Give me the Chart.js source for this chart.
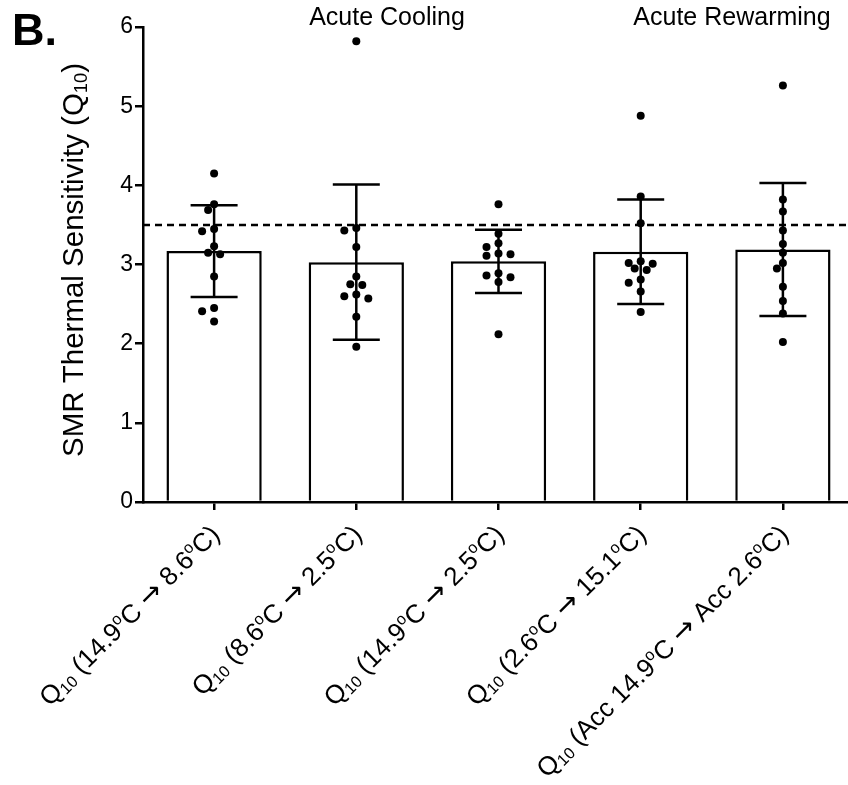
<!DOCTYPE html>
<html>
<head>
<meta charset="utf-8">
<script src="https://cdn.jsdelivr.net/npm/chart.js@4.4.1/dist/chart.umd.min.js"></script>
<style>
  html, body { margin: 0; padding: 0; background: #fff; overflow: hidden; }
  #wrap { width: 860px; height: 785px; }
</style>
</head>
<body>
<div id="wrap"><canvas id="q10Chart" width="860" height="785"></canvas></div>
<script>
// labels use a tiny markup: _{..} = subscript, ^{..} = superscript
const categories = [
    'Q_{10} (14.9^{o}C → 8.6^{o}C)',
    'Q_{10} (8.6^{o}C → 2.5^{o}C)',
    'Q_{10} (14.9^{o}C → 2.5^{o}C)',
    'Q_{10} (2.6^{o}C → 15.1^{o}C)',
    'Q_{10} (Acc 14.9^{o}C → Acc 2.6^{o}C)'
];
const means = [3.17, 3.03, 3.04, 3.16, 3.19];
const sd = [0.58, 0.98, 0.40, 0.66, 0.84];

const fish1 = [4.15, 3.76, 3.69, 3.45, 3.42, 3.23, 3.15, 3.13, 2.85, 2.45, 2.41, 2.28];
const fish2 = [5.82, 3.46, 3.43, 3.22, 2.85, 2.75, 2.74, 2.62, 2.60, 2.57, 2.34, 1.96];
const fish3 = [3.76, 3.39, 3.27, 3.22, 3.14, 3.13, 3.11, 2.89, 2.86, 2.84, 2.78, 2.12];
const fish4 = [4.88, 3.86, 3.52, 3.04, 3.02, 3.01, 2.95, 2.93, 2.81, 2.77, 2.66, 2.40];
const fish5 = [5.26, 3.82, 3.67, 3.43, 3.26, 3.15, 3.02, 2.95, 2.72, 2.54, 2.38, 2.02];

const q10Line = 3.5;
const yMin = 0, yMax = 6, yStep = 1;
const yTitle = 'SMR Thermal Sensitivity (Q_{10})';
const groupTitles = ['Acute Cooling', 'Acute Rewarming'];
const panelLetter = 'B.';

const FONT = '"Liberation Sans", Arial, sans-serif';
const ARROW_FONT = '"DejaVu Sans", sans-serif';

// simple beeswarm so overlapping dots get spread sideways
const X_PX = 142.2, Y_PX = 79.17, STEP = 6, DIAM = 8;
function swarm(values, idx) {
    const order = values.map((v, i) => i).sort((a, b) => values[b] - values[a]);
    const placed = [];
    const out = [];
    order.forEach(i => {
        const v = values[i];
        for (const k of [0, -1, 1, -2, 2, -3, 3, -4, 4, -5, 5, -6, 6]) {
            const dx = k * STEP;
            const ok = placed.every(p => (p.dx - dx) ** 2 + ((p.v - v) * Y_PX) ** 2 >= DIAM * DIAM);
            if (ok) {
                placed.push({ dx, v });
                out.push({ x: idx + dx / X_PX, y: v });
                break;
            }
        }
    });
    return out;
}

const dots = [fish1, fish2, fish3, fish4, fish5].flatMap((g, i) => swarm(g, i));

function parseRich(s) {
    const parts = [];
    const re = /([_^])\{([^}]*)\}|(→)|([^_^→]+)/g;
    let m;
    while ((m = re.exec(s)) !== null) {
        if (m[4]) parts.push({ t: m[4], k: 'n' });
        else if (m[3]) parts.push({ t: m[3], k: 'arrow' });
        else parts.push({ t: m[2], k: m[1] === '_' ? 'sub' : 'sup' });
    }
    return parts;
}

function partFont(p, size) {
    if (p.k === 'arrow') return `${size * 1.05}px ${ARROW_FONT}`;
    if (p.k === 'n') return `${size}px ${FONT}`;
    return `${size * 0.62}px ${FONT}`;
}

function drawRich(ctx, s, size, align) {
    const parts = parseRich(s);
    let total = 0;
    parts.forEach(p => {
        ctx.font = partFont(p, size);
        p.w = ctx.measureText(p.t).width;
        total += p.w;
    });
    let x = align === 'right' ? -total : align === 'center' ? -total / 2 : 0;
    ctx.textAlign = 'left';
    ctx.textBaseline = 'alphabetic';
    parts.forEach(p => {
        ctx.font = partFont(p, size);
        const dy = p.k === 'sub' ? size * 0.12 : p.k === 'sup' ? -size * 0.38 : 0;
        ctx.fillText(p.t, x, dy);
        x += p.w;
    });
}

const overlay = {
    id: 'overlay',
    afterDatasetDraw(chart, args) {
        if (args.index !== 0) return;
        const ctx = chart.ctx;
        const y = chart.scales.y;
        const x = chart.scales.x;
        const area = chart.chartArea;
        ctx.save();
        ctx.strokeStyle = '#000';
        ctx.lineWidth = 2.5;

        // reference line
        ctx.setLineDash([7, 5]);
        ctx.beginPath();
        ctx.moveTo(area.left, y.getPixelForValue(q10Line));
        ctx.lineTo(area.right, y.getPixelForValue(q10Line));
        ctx.stroke();
        ctx.setLineDash([]);

        // mean +/- SD
        means.forEach((m, i) => {
            const cx = x.getPixelForValue(i);
            const top = y.getPixelForValue(m + sd[i]);
            const bot = y.getPixelForValue(m - sd[i]);
            ctx.beginPath();
            ctx.moveTo(cx, top);
            ctx.lineTo(cx, bot);
            ctx.moveTo(cx - 23.5, top);
            ctx.lineTo(cx + 23.5, top);
            ctx.moveTo(cx - 23.5, bot);
            ctx.lineTo(cx + 23.5, bot);
            ctx.stroke();
        });
        ctx.restore();
    },
    afterDraw(chart) {
        const ctx = chart.ctx;
        const x = chart.scales.x;
        const area = chart.chartArea;
        ctx.save();
        ctx.fillStyle = '#000';

        categories.forEach((c, i) => {
            ctx.save();
            ctx.translate(x.getPixelForValue(i) + 7, area.bottom + 34);
            ctx.rotate(-Math.PI / 4);
            drawRich(ctx, c, 26, 'right');
            ctx.restore();
        });

        ctx.save();
        ctx.translate(83, 260);
        ctx.rotate(-Math.PI / 2);
        drawRich(ctx, yTitle, 29.5, 'center');
        ctx.restore();

        ctx.textBaseline = 'alphabetic';
        ctx.textAlign = 'center';
        ctx.font = `25px ${FONT}`;
        ctx.fillText(groupTitles[0], 387, 25);
        ctx.fillText(groupTitles[1], 732, 25);

        ctx.textAlign = 'left';
        ctx.font = `bold 45px ${FONT}`;
        ctx.fillText(panelLetter, 12, 45);
        ctx.restore();
    }
};

new Chart(document.getElementById('q10Chart').getContext('2d'), {
    type: 'bar',
    data: {
        labels: categories,
        datasets: [
            {
                type: 'bar',
                data: means,
                backgroundColor: '#fff',
                borderColor: '#000',
                borderWidth: 2.5,
                grouped: false,
                barPercentage: 0.67,
                categoryPercentage: 1,
                order: 2,
                xAxisID: 'x',
                yAxisID: 'y'
            },
            {
                type: 'scatter',
                data: dots,
                backgroundColor: '#000',
                borderWidth: 0,
                pointRadius: 4,
                order: 1,
                xAxisID: 'xs',
                yAxisID: 'y'
            }
        ]
    },
    options: {
        responsive: false,
        animation: false,
        devicePixelRatio: 1,
        layout: { padding: { top: 27, right: 6, left: 0, bottom: 0 } },
        plugins: { legend: { display: false }, tooltip: { enabled: false } },
        scales: {
            x: {
                type: 'category',
                offset: true,
                ticks: { display: false, autoSkip: false },
                grid: { offset: false, drawOnChartArea: false, drawTicks: true, tickLength: 8, color: '#000', lineWidth: 2.5 },
                border: { display: true, color: '#000', width: 2.5 },
                afterFit(s) { s.height = 283; }
            },
            xs: { type: 'linear', display: false, offset: false, min: -0.5, max: 4.5 },
            y: {
                min: yMin,
                max: yMax,
                ticks: { stepSize: yStep, color: '#000', font: { family: FONT, size: 23 }, padding: 2 },
                grid: { drawOnChartArea: false, tickLength: 8, color: '#000', lineWidth: 2.5 },
                border: { display: true, color: '#000', width: 2.5 },
                afterFit(s) { s.width = 143; }
            }
        }
    },
    plugins: [overlay]
});
</script>
</body>
</html>
